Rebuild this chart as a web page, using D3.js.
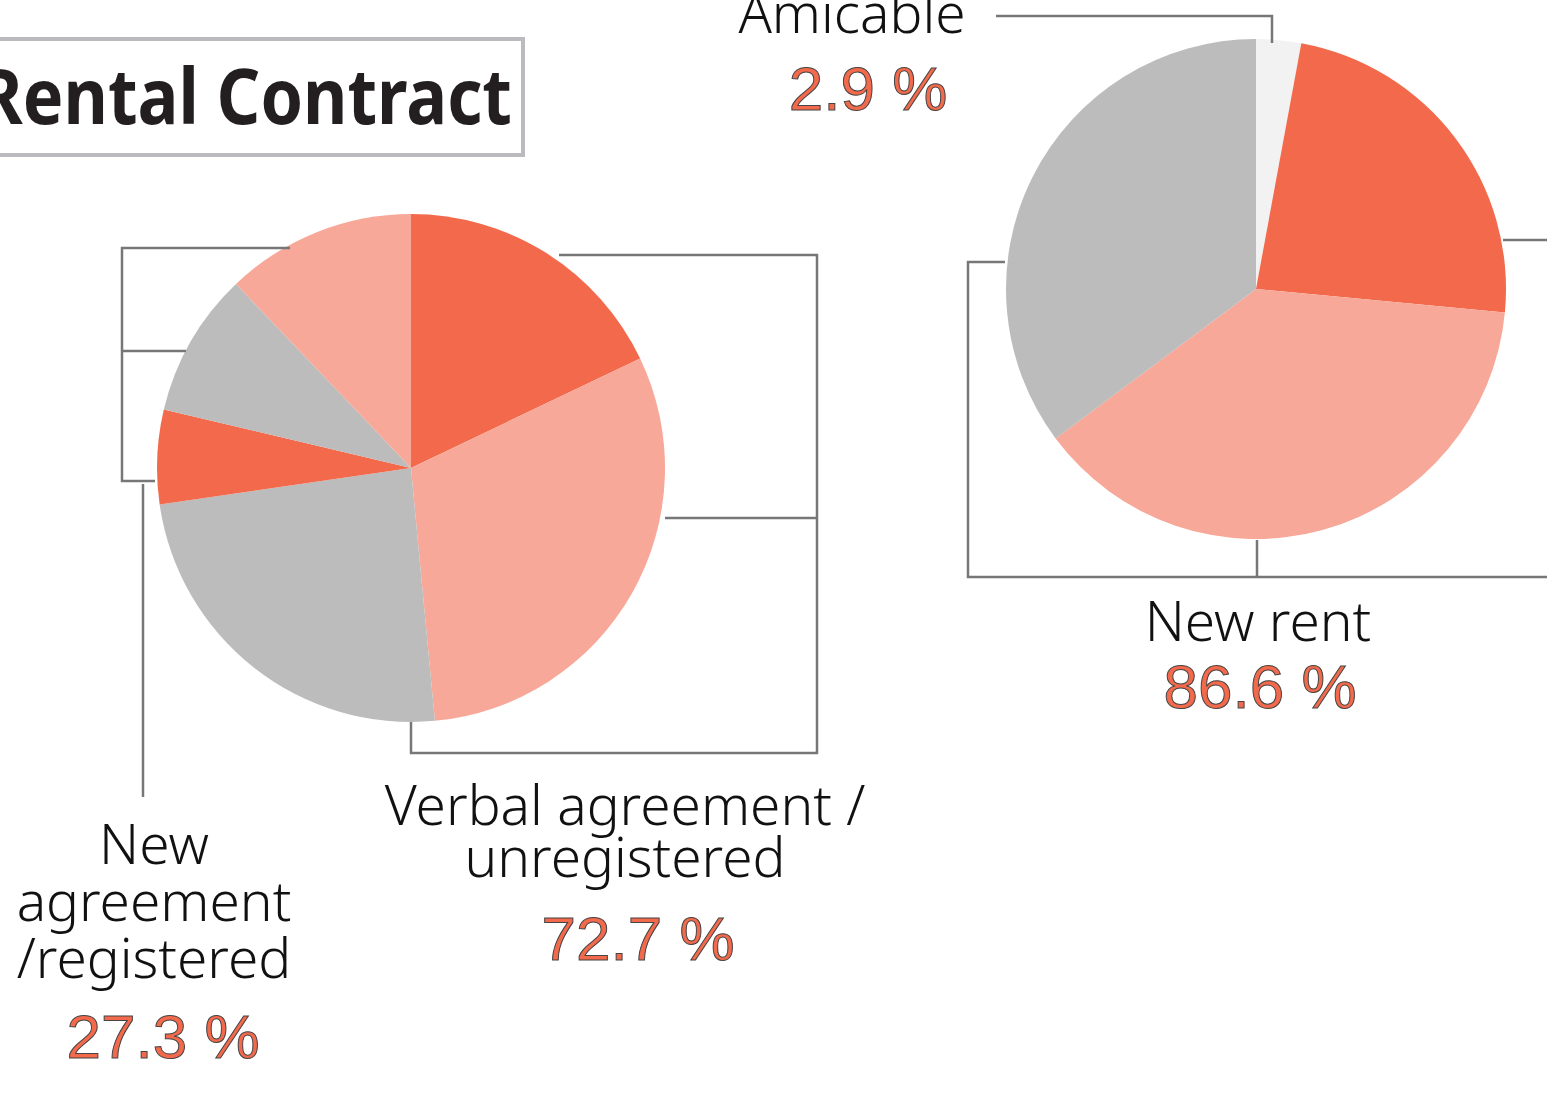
<!DOCTYPE html>
<html lang="en">
	<head>
		<meta charset="utf-8">
		<title>Rental Contract</title>
		<script src="https://cdn.jsdelivr.net/npm/d3@7"></script>
		<style type="text/css">
			body { margin: 0; background: #fff; }
			svg { display: block; }
			.label { font-family: "Noto Sans", "Open Sans", sans-serif; font-weight: 300; fill: #111; }
			.value { font-family: "Liberation Sans", Arial, sans-serif; fill: #F2694B; stroke: #444; stroke-width: 1px; }
			.leader { fill: none; stroke: #777; stroke-width: 2.5px; }
		</style>
	</head>
	<body>
		<div id="main"></div>

		<script type="text/javascript">

			// left pie: rental contract type, broken down in six slices
			var leftSlices = [17.9, 30.6, 24.2, 6.0, 9.2, 12.1];
			var leftCategories = ["Verbal agreement /|unregistered", "New|agreement|/registered"];
			var leftTotals = [72.7, 27.3];

			// right pie: how the rent was settled
			var rightSlices = [2.9, 23.6, 38.3, 35.2];
			var rightCategories = ["Amicable", "New rent"];
			var rightTotals = [2.9, 86.6];

			var title = "Rental Contract";

			var orange = "#F2694B", salmon = "#F7A898", grey = "#BCBCBC", pale = "#F2F2F2";
			var leftColors = [orange, salmon, grey, orange, grey, salmon];
			var rightColors = [pale, orange, salmon, grey];

			var w = 1547, h = 1093;

			var svg = d3.select("#main")
						.append("svg")
						.attr("width", w)
						.attr("height", h);

			var pie = d3.pie().sort(null).value(function(d) { return d; });
			var fmt = function(v) { return d3.format(".1f")(v) + " %"; };

			// title box
			svg.append("rect")
				.attr("x", -20).attr("y", 39)
				.attr("width", 543).attr("height", 116)
				.attr("fill", "none")
				.attr("stroke", "#BBBBBF")
				.attr("stroke-width", 4);

			svg.append("text")
				.attr("x", -22).attr("y", 124)
				.attr("textLength", 534)
				.attr("lengthAdjust", "spacingAndGlyphs")
				.style("font-family", "'Noto Sans', 'Open Sans', sans-serif")
				.style("font-weight", 700)
				.style("font-size", "77px")
				.style("fill", "#231F20")
				.text(title);

			//Left pie
			var L = { cx: 411, cy: 468, r: 254 };
			var leftArc = d3.arc().innerRadius(0).outerRadius(L.r);

			svg.append("g")
				.attr("transform", "translate(" + L.cx + "," + L.cy + ")")
				.selectAll("path")
				.data(pie(leftSlices))
				.enter()
				.append("path")
				.attr("d", leftArc)
				.attr("fill", function(d, i) { return leftColors[i]; });

			var gl = svg.append("g").attr("transform", "translate(" + L.cx + "," + L.cy + ")");
			// bracket round the verbal slices
			gl.append("path").attr("class", "leader")
				.attr("d", "M148,-213H406V285H0V254M254,50H406");
			// bracket round the new agreement slices
			gl.append("path").attr("class", "leader")
				.attr("d", "M-121,-220H-289V13H-256M-289,-117H-225M-268,16V329");

			//Right pie
			var R = { cx: 1256, cy: 289, r: 250 };
			var rightArc = d3.arc().innerRadius(0).outerRadius(R.r);

			svg.append("g")
				.attr("transform", "translate(" + R.cx + "," + R.cy + ")")
				.selectAll("path")
				.data(pie(rightSlices))
				.enter()
				.append("path")
				.attr("d", rightArc)
				.attr("fill", function(d, i) { return rightColors[i]; });

			var gr = svg.append("g").attr("transform", "translate(" + R.cx + "," + R.cy + ")");
			gr.append("path").attr("class", "leader")
				.attr("d", "M-260,-273H16V-246");
			gr.append("path").attr("class", "leader")
				.attr("d", "M-251,-27H-288V288H320M1,251V288");
			gr.append("path").attr("class", "leader")
				.attr("d", "M247,-49H320");

			// labels
			function label(lines, x, y, step, size) {
				var t = svg.append("text")
					.attr("class", "label")
					.attr("text-anchor", "middle")
					.style("font-size", size + "px");
				lines.split("|").forEach(function(s, i) {
					t.append("tspan").attr("x", x).attr("y", y + i * step).text(s);
				});
			}
			function value(v, x, y) {
				svg.append("text")
					.attr("class", "value")
					.attr("text-anchor", "middle")
					.attr("x", x).attr("y", y)
					.style("font-size", "62px")
					.text(fmt(v));
			}

			label(leftCategories[0], 625, 825, 52, 55);
			value(leftTotals[0], 638, 960);

			label(leftCategories[1], 154, 864, 57, 55);
			value(leftTotals[1], 163, 1058);

			label(rightCategories[0], 852, 33, 0, 55);
			value(rightTotals[0], 868, 110);

			label(rightCategories[1], 1258, 641, 0, 55);
			value(rightTotals[1], 1260, 708);

		</script>
	</body>
</html>
